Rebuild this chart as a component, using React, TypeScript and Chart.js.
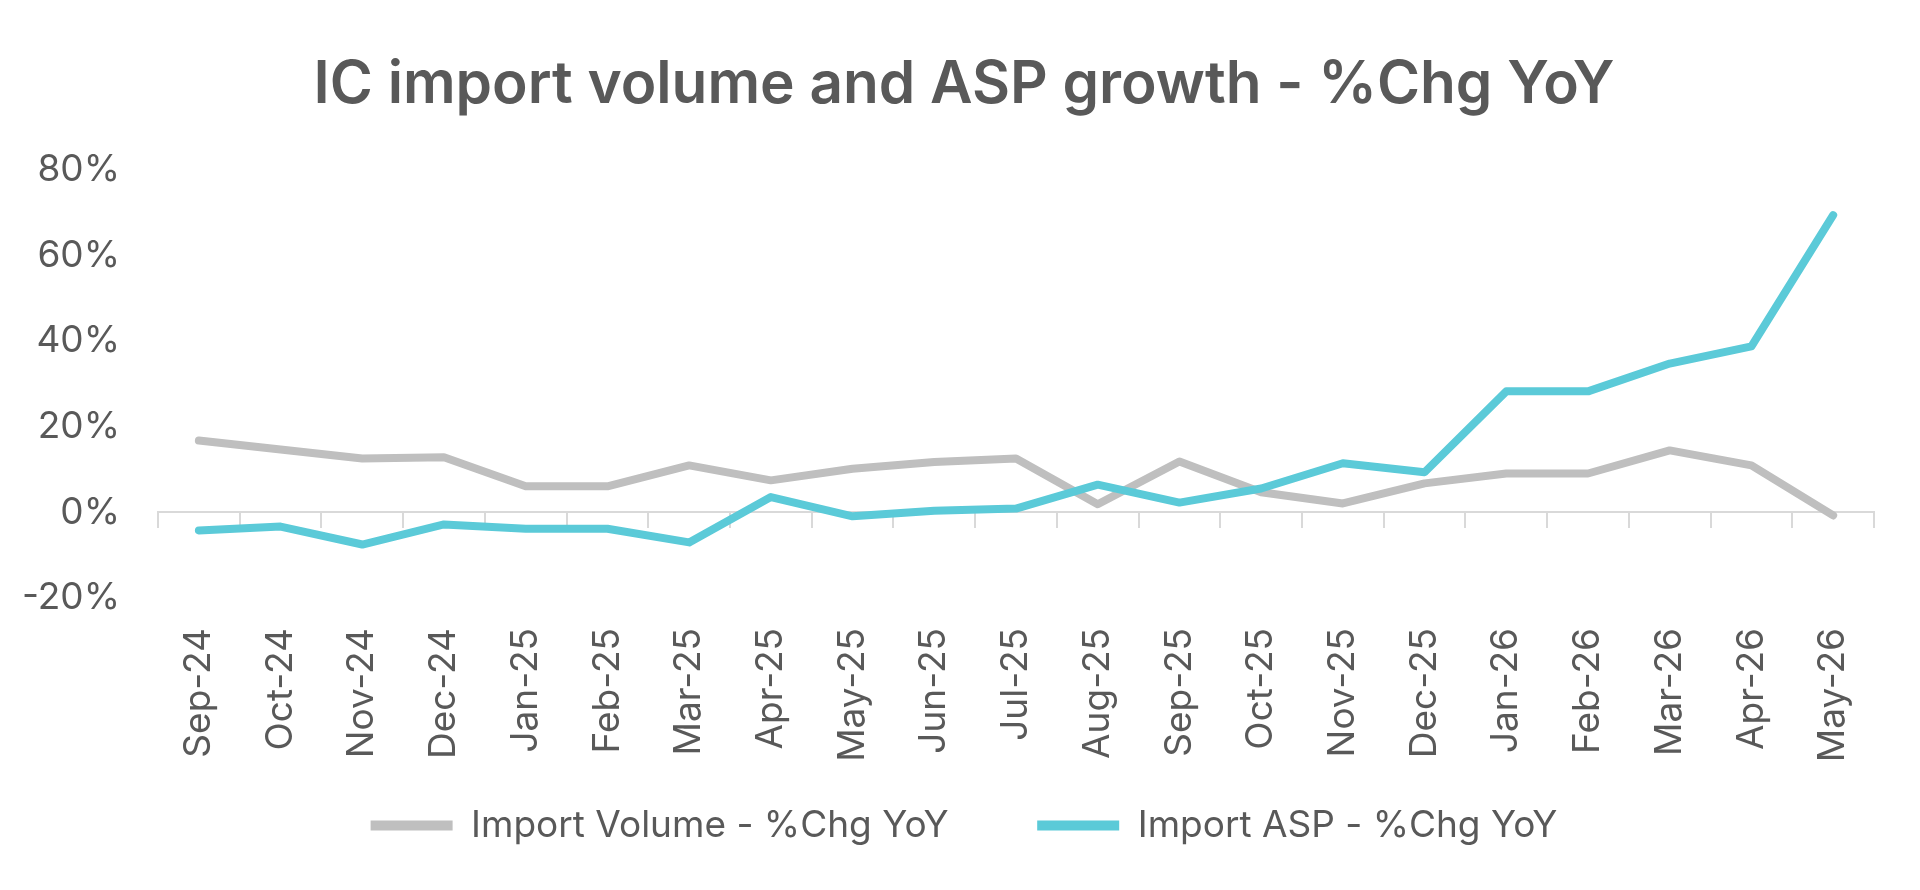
import { useEffect, useRef } from 'react';
import { Chart, registerables } from 'chart.js';

Chart.register(...registerables);

const categories = [
  'Sep-24', 'Oct-24', 'Nov-24', 'Dec-24', 'Jan-25', 'Feb-25', 'Mar-25',
  'Apr-25', 'May-25', 'Jun-25', 'Jul-25', 'Aug-25', 'Sep-25', 'Oct-25',
  'Nov-25', 'Dec-25', 'Jan-26', 'Feb-26', 'Mar-26', 'Apr-26', 'May-26',
];

const importVolumeYoY = [
  16.8, 14.7, 12.6, 12.9, 6.1, 6.1, 11.0, 7.5, 10.2, 11.8, 12.6,
  1.9, 11.9, 4.7, 2.1, 6.8, 9.1, 9.1, 14.5, 11.0, -0.7,
];

const importAspYoY = [
  -4.2, -3.3, -7.5, -2.8, -3.8, -3.8, -7.0, 3.6, -0.9, 0.4, 0.9,
  6.5, 2.3, 5.6, 11.5, 9.4, 28.3, 28.3, 34.8, 38.8, 69.5,
];

const seriesLabels = ['Import Volume - %Chg YoY', 'Import ASP - %Chg YoY'];
const yMin = -20;
const yMax = 80;
const yStep = 20;

const TEXT = '#595959';
const FONT = 'Inter';

export default function App() {
  const ref = useRef<HTMLCanvasElement | null>(null);

  useEffect(() => {
    if (!ref.current) return;
    const chart = new Chart(ref.current, {
      type: 'line',
      data: {
        labels: categories,
        datasets: [
          {
            label: seriesLabels[0],
            data: importVolumeYoY,
            borderColor: '#bfbfbf',
            backgroundColor: '#bfbfbf',
            borderWidth: 8,
            pointRadius: 0,
            borderCapStyle: 'round',
            borderJoinStyle: 'round',
            tension: 0,
            order: 1,
          },
          {
            label: seriesLabels[1],
            data: importAspYoY,
            borderColor: '#5bcad8',
            backgroundColor: '#5bcad8',
            borderWidth: 8,
            pointRadius: 0,
            borderCapStyle: 'round',
            borderJoinStyle: 'round',
            tension: 0,
            order: 0,
          },
        ],
      },
      options: {
        animation: false,
        responsive: true,
        maintainAspectRatio: false,
        layout: { padding: { left: 0, right: -8, top: 0, bottom: 36 } },
        plugins: {
          title: {
            display: true,
            text: 'IC import volume and ASP growth - %Chg YoY',
            color: TEXT,
            font: { family: FONT, size: 58.5, weight: '600' },
            padding: { top: 50, bottom: 50 },
          },
          legend: {
            display: true,
            position: 'bottom',
            labels: {
              usePointStyle: true,
              pointStyle: 'line',
              pointStyleWidth: 82,
              color: TEXT,
              font: { family: FONT, size: 37, weight: '400' },
              padding: 47,
              generateLabels: (c: any) => {
                const items = Chart.defaults.plugins.legend.labels.generateLabels(c);
                items.sort((a: any, b: any) => a.datasetIndex - b.datasetIndex);
                return items.map((it: any, i: number) => ({
                  ...it,
                  lineWidth: 10,
                  text: i < items.length - 1 ? it.text + '    ' : it.text,
                }));
              },
            },
          },
          tooltip: { enabled: false },
        },
        scales: {
          x: {
            type: 'category',
            position: 'bottom',
            offset: true,
            grid: { display: false, drawTicks: false },
            border: { display: false },
            ticks: {
              autoSkip: false,
              minRotation: 90,
              maxRotation: 90,
              padding: 30,
              color: TEXT,
              font: { family: FONT, size: 37, weight: '400' },
            },
            afterFit: (s: any) => {
              s.height = 162;
            },
          },
          x2: {
            type: 'category',
            axis: 'x',
            position: { y: 0 },
            offset: true,
            grid: {
              display: true,
              offset: true,
              drawOnChartArea: false,
              drawTicks: true,
              tickLength: 15,
              color: '#d9d9d9',
              lineWidth: 2,
            },
            border: { display: true, color: '#d9d9d9', width: 2 },
            ticks: { display: false },
          },
          y: {
            type: 'linear',
            position: 'left',
            min: yMin,
            max: yMax,
            grid: { display: false, drawTicks: false },
            border: { display: false },
            ticks: {
              stepSize: yStep,
              padding: 38,
              color: TEXT,
              font: { family: FONT, size: 37, weight: '400' },
              callback: (v: any) => `${v}%`,
            },
            afterFit: (s: any) => {
              s.width = 158;
            },
          },
          yRight: {
            type: 'linear',
            axis: 'y',
            position: 'right',
            display: true,
            grid: { display: false, drawTicks: false },
            border: { display: false },
            ticks: { display: false },
            afterFit: (s: any) => {
              s.width = 54;
            },
          },
        },
      },
    } as any);
    return () => chart.destroy();
  }, []);

  return (
    <div style={{ position: 'absolute', left: 0, top: 0, width: 1920, height: 890, background: '#fff' }}>
      <canvas ref={ref} />
    </div>
  );
}
